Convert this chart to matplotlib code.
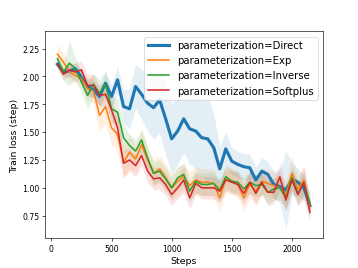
import numpy as np
import matplotlib
matplotlib.use("Agg")
import matplotlib.pyplot as plt

steps = list(range(50, 2151, 50))

direct = [2.11, 2.04, 2.05, 2.07, 1.99, 1.91, 1.88, 1.82, 1.94, 1.82,
          1.97, 1.73, 1.71, 1.91, 1.84, 1.76, 1.72, 1.79, 1.62, 1.44,
          1.51, 1.62, 1.53, 1.51, 1.45, 1.44, 1.36, 1.17, 1.35, 1.24,
          1.21, 1.19, 1.18, 1.07, 1.15, 1.12, 1.03, 1.01, 0.98, 1.08,
          1.05, 1.00, 0.84]
exp_ = [2.20, 2.13, 2.04, 2.01, 1.98, 1.89, 1.87, 1.65, 1.73, 1.54,
        1.48, 1.23, 1.32, 1.26, 1.39, 1.25, 1.13, 1.17, 1.09, 1.00,
        1.06, 1.10, 1.02, 1.07, 1.05, 1.05, 1.04, 0.91, 1.08, 1.06,
        1.03, 0.91, 1.03, 0.97, 1.06, 1.04, 1.02, 1.00, 0.94, 1.13,
        0.99, 1.07, 0.82]
inverse = [2.16, 2.04, 2.12, 2.07, 1.95, 1.83, 1.93, 1.85, 1.93, 1.71,
           1.68, 1.45, 1.38, 1.33, 1.43, 1.27, 1.13, 1.15, 1.08, 1.00,
           1.09, 1.12, 0.97, 1.06, 1.03, 1.03, 1.04, 0.98, 1.10, 1.06,
           1.05, 0.99, 1.05, 1.02, 1.03, 0.96, 0.99, 1.00, 0.91, 1.09,
           0.95, 1.04, 0.86]
softplus = [2.11, 2.02, 2.06, 2.04, 2.06, 1.92, 1.92, 1.83, 1.84, 1.70,
            1.54, 1.22, 1.25, 1.20, 1.29, 1.15, 1.08, 1.09, 1.03, 0.94,
            1.00, 1.07, 0.91, 1.04, 1.00, 1.00, 1.00, 0.97, 1.07, 1.05,
            1.03, 0.95, 1.05, 0.95, 1.05, 0.96, 0.96, 1.10, 0.89, 1.07,
            0.94, 1.05, 0.78]

# half widths of the confidence bands
direct_err = [0.03, 0.04, 0.05, 0.05, 0.06, 0.07, 0.08, 0.08, 0.10, 0.10,
              0.12, 0.15, 0.18, 0.20, 0.22, 0.25, 0.28, 0.30, 0.32, 0.32,
              0.30, 0.30, 0.32, 0.33, 0.35, 0.38, 0.30, 0.20, 0.15, 0.12,
              0.12, 0.12, 0.12, 0.12, 0.12, 0.12, 0.12, 0.15, 0.35, 0.15,
              0.12, 0.12, 0.10]
exp_err = [0.09, 0.08, 0.07, 0.07, 0.08, 0.10, 0.12, 0.15, 0.15, 0.15,
           0.15, 0.15, 0.15, 0.12, 0.12, 0.12, 0.12, 0.12, 0.12, 0.12,
           0.12, 0.12, 0.12, 0.12, 0.12, 0.12, 0.12, 0.12, 0.12, 0.12,
           0.12, 0.12, 0.12, 0.12, 0.12, 0.12, 0.12, 0.12, 0.12, 0.15,
           0.12, 0.12, 0.08]
inverse_err = [0.06, 0.08, 0.20, 0.10, 0.10, 0.12, 0.10, 0.12, 0.12, 0.12,
               0.12, 0.12, 0.10, 0.10, 0.10, 0.10, 0.10, 0.10, 0.10, 0.10,
               0.10, 0.10, 0.10, 0.10, 0.10, 0.10, 0.10, 0.10, 0.10, 0.10,
               0.10, 0.10, 0.10, 0.10, 0.10, 0.10, 0.10, 0.10, 0.10, 0.10,
               0.10, 0.10, 0.08]
softplus_err = [0.05, 0.05, 0.06, 0.08, 0.08, 0.10, 0.10, 0.10, 0.10, 0.10,
                0.12, 0.12, 0.10, 0.10, 0.10, 0.10, 0.10, 0.10, 0.10, 0.10,
                0.10, 0.12, 0.10, 0.10, 0.10, 0.10, 0.10, 0.10, 0.10, 0.10,
                0.10, 0.10, 0.10, 0.10, 0.10, 0.12, 0.10, 0.12, 0.10, 0.10,
                0.10, 0.15, 0.08]

series = [
    ("parameterization=Direct", direct, direct_err, "#1f77b4", 4.0),
    ("parameterization=Exp", exp_, exp_err, "#ff7f0e", 2.0),
    ("parameterization=Inverse", inverse, inverse_err, "#2ca02c", 2.0),
    ("parameterization=Softplus", softplus, softplus_err, "#d62728", 2.0),
]

fig, ax = plt.subplots(figsize=(6.4, 4.8), dpi=56)

x = np.array(steps)
for label, vals, err, color, lw in series:
    y = np.array(vals)
    e = np.array(err)
    ax.fill_between(x, y - e, y + e, color=color, alpha=0.12, linewidth=0)
    ax.plot(x, y, color=color, lw=lw, label=label)

ax.set_xlabel("Steps", fontsize=12)
ax.set_ylabel("Train loss (step)", fontsize=12)
ax.set_yticks([0.75, 1.00, 1.25, 1.50, 1.75, 2.00, 2.25])
ax.legend(loc="upper right", fontsize=13)

fig.savefig("out.png", dpi=56)
